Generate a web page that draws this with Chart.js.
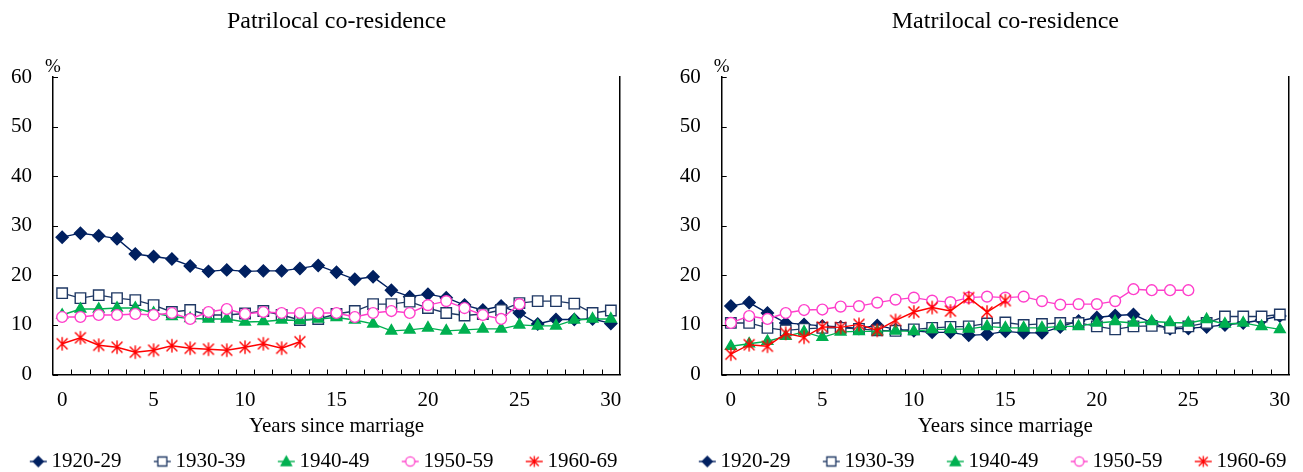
<!DOCTYPE html>
<html><head><meta charset="utf-8">
<script src="https://cdn.jsdelivr.net/npm/chart.js@4.4.0/dist/chart.umd.min.js"></script>
<style>
html,body{margin:0;padding:0;background:#fff;width:1303px;height:472px;overflow:hidden;position:relative;}
canvas{position:absolute;top:0;}
</style></head><body>
<canvas id="c1" width="659" height="482" style="left:-16px"></canvas>
<canvas id="c2" width="659" height="482" style="left:653px"></canvas>
<script>
// ---------- data ----------
const years = ['0','1','2','3','4','5','6','7','8','9','10','11','12','13','14','15','16','17','18','19','20','21','22','23','24','25','26','27','28','29','30'];
const cohorts = ['1920-29','1930-39','1940-49','1950-59','1960-69'];
const yTicks = [0,10,20,30,40,50,60];

// Patrilocal co-residence (%)
const patri1920 = [27.7,28.5,28.0,27.4,24.3,23.8,23.3,21.9,20.8,21.1,20.8,20.9,20.9,21.4,22.0,20.6,19.2,19.7,17.0,15.7,16.2,15.5,14.0,13.0,13.8,12.4,10.2,11.1,11.1,11.2,10.3];
const patri1930 = [16.4,15.4,16.0,15.4,15.0,14.0,12.6,13.0,12.0,12.0,12.3,12.8,12.0,11.0,11.2,12.2,12.8,14.2,14.2,14.7,13.4,12.4,11.9,12.2,13.0,14.4,14.8,14.8,14.3,12.4,12.9];
const patri1940 = [12.0,13.2,13.2,13.4,13.4,12.4,11.7,11.3,11.2,11.2,10.6,10.7,11.0,10.9,11.2,11.5,11.0,10.2,8.8,9.0,9.4,8.8,9.0,9.2,9.2,10.0,9.8,9.8,11.0,11.2,11.2];
const patri1950 = [11.6,11.6,12.0,12.0,12.2,12.0,12.4,11.2,12.6,13.2,12.2,12.6,12.4,12.4,12.4,12.4,11.6,12.4,12.8,12.4,14.0,14.8,13.4,12.0,11.2,14.2];
const patri1960 = [6.2,7.4,5.9,5.5,4.5,4.9,5.8,5.3,5.1,4.9,5.5,6.2,5.3,6.6];

// Matrilocal co-residence (%)
const matri1920 = [13.8,14.5,12.4,10.4,10.1,9.8,9.6,9.3,9.9,9.1,8.8,8.5,8.5,7.9,8.1,8.7,8.4,8.4,9.6,10.8,11.5,11.9,12.1,10.4,9.2,9.3,9.6,10.0,10.4,11.0,11.8];
const matri1930 = [10.4,10.4,9.4,8.9,9.2,9.4,9.4,9.2,8.9,8.8,9.1,9.4,9.6,9.7,10.3,10.5,10.0,10.2,10.4,10.4,9.7,9.1,9.7,9.8,9.4,9.7,10.4,11.7,11.7,11.7,12.1];
const matri1940 = [5.7,6.2,6.7,7.7,8.6,7.5,8.6,8.7,8.7,8.8,8.7,9.1,9.1,9.2,9.7,9.4,9.4,9.4,9.7,9.7,10.4,10.7,10.4,10.7,10.5,10.4,11.1,10.2,10.4,9.7,9.1];
const matri1950 = [10.4,11.8,11.2,12.4,13.0,13.1,13.7,13.8,14.5,15.1,15.5,14.9,14.6,15.5,15.7,15.5,15.7,14.8,14.1,14.2,14.2,14.8,17.2,17.0,17.0,17.0];
const matri1960 = [4.1,6.0,5.7,8.3,7.5,9.6,9.5,10.1,8.9,10.9,12.6,13.5,12.8,15.5,12.6,14.9];

// ---------- styles ----------
const FONT = '"Liberation Serif", "Times New Roman", serif';
const lineColors = ['#002060','#1F3864','#00B050','#FF3FCB','#FF0000'];
const markerFill = ['#002060','#FFFFFF','#00B050','#FFFFFF','#FF0000'];
const markerEdge = ['#002060','#1F3864','#00B050','#FF3FCB','#FF0000'];
const markerKind = ['diamond','square','triangle','circle','star'];
const markerRadius = [6.0,7.4,6.2,5.4,0];

function drawMarker(g, kind, x, y, s, fill, edge, lw){
  g.save();
  g.fillStyle = fill; g.strokeStyle = edge; g.lineWidth = lw;
  g.beginPath();
  if(kind==='diamond'){ g.moveTo(x-s,y); g.lineTo(x,y-s); g.lineTo(x+s,y); g.lineTo(x,y+s); g.closePath(); g.fill(); g.stroke(); }
  else if(kind==='square'){ g.rect(x-s,y-s,2*s,2*s); g.fill(); g.stroke(); }
  else if(kind==='triangle'){ g.moveTo(x,y-s); g.lineTo(x+s,y+s*0.8); g.lineTo(x-s,y+s*0.8); g.closePath(); g.fill(); g.stroke(); }
  else if(kind==='circle'){ g.arc(x,y,s,0,Math.PI*2); g.fill(); g.stroke(); }
  else if(kind==='star'){ const d=s*0.8; g.moveTo(x,y-s); g.lineTo(x,y+s); g.moveTo(x-d,y-d); g.lineTo(x+d,y+d); g.moveTo(x+d,y-d); g.lineTo(x-d,y+d); g.stroke(); }
  g.restore();
}
function starImage(){
  const c=document.createElement('canvas'); c.width=16; c.height=16;
  drawMarker(c.getContext('2d'),'star',8,8,6.8,'#FF0000','#FF0000',1.4);
  return c;
}
function legendIcon(i){
  const c=document.createElement('canvas'); c.width=47; c.height=16;
  const g=c.getContext('2d');
  g.strokeStyle=lineColors[i]; g.lineWidth=1.4;
  g.beginPath(); g.moveTo(28,8); g.lineTo(45,8); g.stroke();
  const sz=[5,4.5,5.2,4.6,5.6][i];
  drawMarker(g, markerKind[i], 36.5, 8, sz, markerFill[i], markerEdge[i], 1.3);
  return c;
}
const starPt = starImage();
const icons = [0,1,2,3,4].map(legendIcon);

function makeDatasets(arrs){
  return arrs.map((d,i)=>({
    label: cohorts[i],
    data: d,
    borderColor: lineColors[i],
    borderWidth: 1.4,
    backgroundColor: markerFill[i],
    pointBackgroundColor: markerFill[i],
    pointBorderColor: markerEdge[i],
    pointBorderWidth: 1.4,
    pointStyle: markerKind[i]==='diamond'?'rectRot':markerKind[i]==='square'?'rect':markerKind[i]==='triangle'?'triangle':markerKind[i]==='circle'?'circle':starPt,
    pointRadius: markerRadius[i] || 6,
    pointHoverRadius: markerRadius[i] || 6,
    fill:false, tension:0,
    order: 5-i
  }));
}

const decor = {
  id:'decor',
  afterDraw(chart, args, opts){
    const {ctx, chartArea:a, scales:{x, y}} = chart;
    ctx.save();
    ctx.strokeStyle='#000'; ctx.lineWidth=1;
    ctx.beginPath();
    yTicks.forEach(v=>{ const py=Math.round(y.getPixelForValue(v))+0.5; ctx.moveTo(a.left, py); ctx.lineTo(a.left+5, py); });
    const step = x.getPixelForValue(1)-x.getPixelForValue(0);
    for(let i=1;i<years.length;i++){ const px=Math.round(x.getPixelForValue(i)-step/2)+0.5; ctx.moveTo(px,a.bottom); ctx.lineTo(px,a.bottom-5); }
    ctx.stroke();
    ctx.fillStyle='#000';
    ctx.font = '24px ' + FONT;
    ctx.textAlign='center'; ctx.textBaseline='middle';
    ctx.fillText(opts.title, (a.left+a.right)/2, 22);
    ctx.font = '19px ' + FONT;
    ctx.fillText('%', a.left, a.top-10);
    ctx.restore();
  }
};

function makeChart(id, title, arrs, yAxisWidth, rightWidth){
  return new Chart(document.getElementById(id), {
    type:'line',
    data:{ labels: years, datasets: makeDatasets(arrs) },
    plugins:[decor],
    options:{
      responsive:false, animation:false,
      layout:{ padding:{ top:77, right:0, bottom:0, left:0 } },
      plugins:{
        decor:{ title },
        title:{ display:false },
        tooltip:{ enabled:false },
        legend:{
          position:'bottom',
          labels:{
            usePointStyle:true, pointStyleWidth:31.5, padding:12,
            color:'#000', font:{ family:FONT, size:21 },
            sort:(a,b)=>a.datasetIndex-b.datasetIndex,
            generateLabels(chart){
              const items = Chart.defaults.plugins.legend.labels.generateLabels(chart);
              items.forEach(it=>{ it.pointStyle = icons[it.datasetIndex]; });
              return items;
            }
          }
        }
      },
      scales:{
        x:{
          type:'category', offset:true,
          grid:{ display:true, drawOnChartArea:false, drawTicks:false, offset:true, color:'rgba(0,0,0,0)' },
          border:{ display:true, color:'#000', width:1.5 },
          ticks:{ autoSkip:false, maxRotation:0, padding:13, color:'#000', font:{family:FONT,size:21},
            callback:(v,i)=> (Number(years[i])%5===0 ? years[i] : '') },
          title:{ display:true, text:'Years since marriage', color:'#000', font:{family:FONT,size:21}, padding:{top:0,bottom:0} },
          afterFit(s){ s.height = 64.5; }
        },
        y:{
          min:0, max:60,
          grid:{ display:true, drawOnChartArea:false, drawTicks:false, color:'rgba(0,0,0,0)' },
          border:{ display:true, color:'#000', width:1.5 },
          ticks:{ stepSize:10, padding:21, color:'#000', font:{family:FONT,size:21} },
          afterBuildTicks(s){ s.ticks = yTicks.map(v=>({value:v})); },
          afterFit(s){ s.width = yAxisWidth; }
        },
        yRight:{
          position:'right', min:0, max:60,
          grid:{ display:true, drawOnChartArea:false, drawTicks:false, color:'rgba(0,0,0,0)' },
          border:{ display:true, color:'#000', width:1.5 },
          ticks:{ display:false },
          afterFit(s){ s.width = rightWidth; }
        }
      }
    }
  });
}

makeChart('c1','Patrilocal co-residence',[patri1920,patri1930,patri1940,patri1950,patri1960],69,23);
makeChart('c2','Matrilocal co-residence',[matri1920,matri1930,matri1940,matri1950,matri1960],68.7,23);
</script>
</body></html>
